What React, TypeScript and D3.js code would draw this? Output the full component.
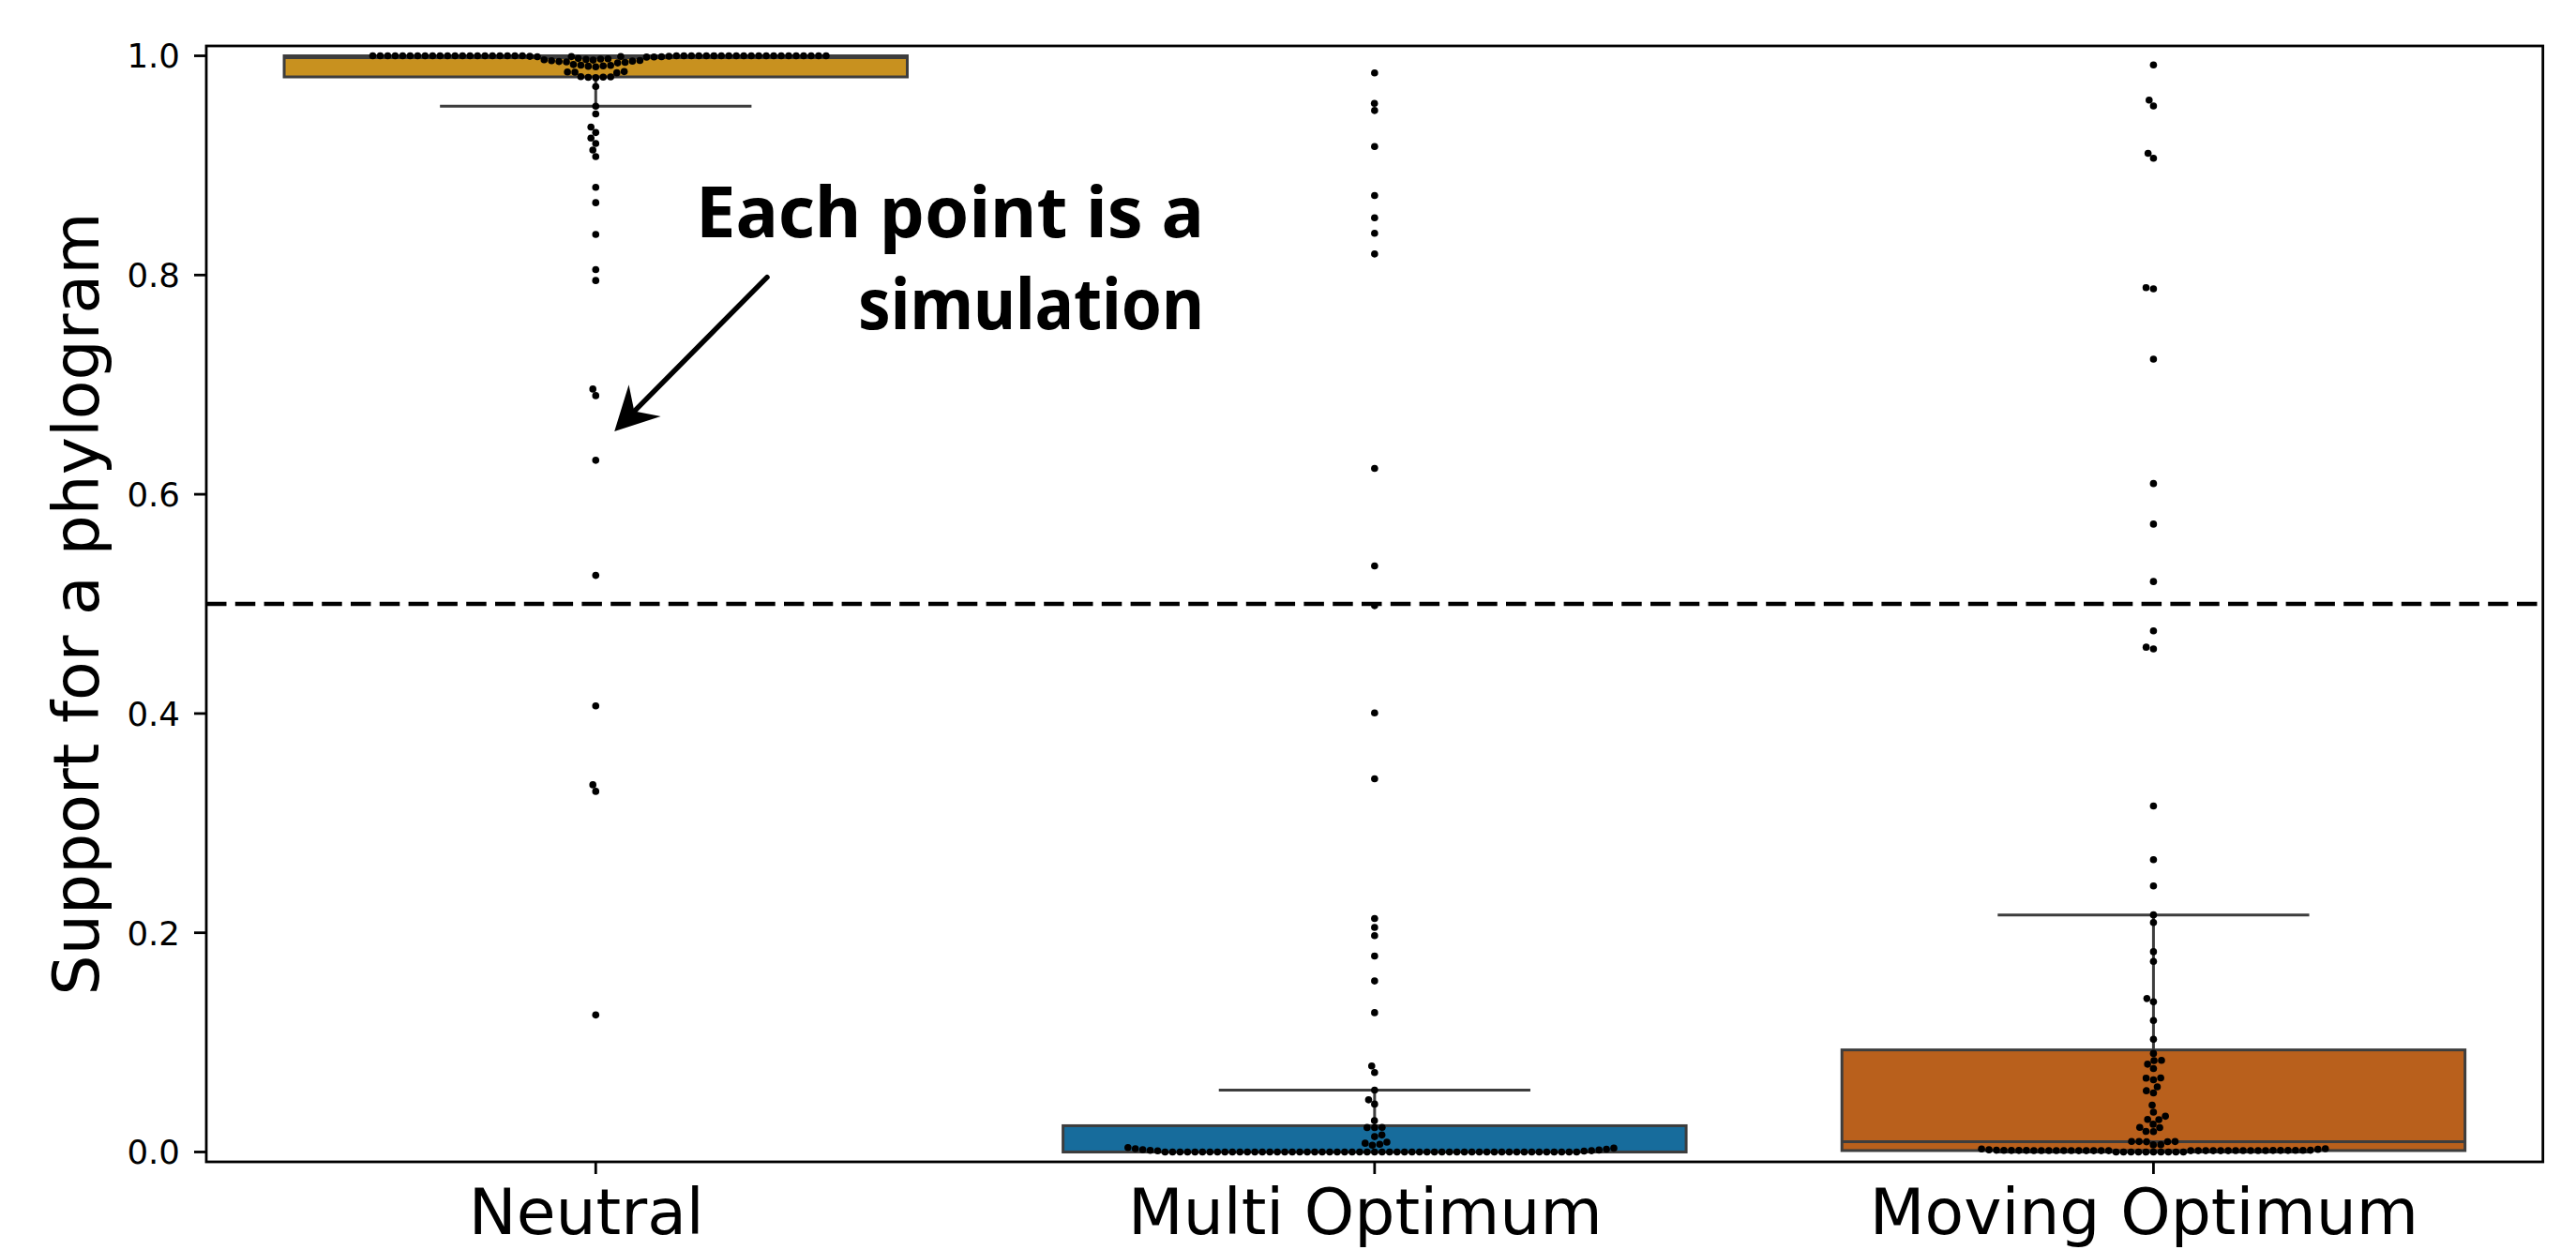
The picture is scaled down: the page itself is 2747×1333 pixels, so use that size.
import React from 'react';
import * as d3 from 'd3';

const categories = ['Neutral', 'Multi Optimum', 'Moving Optimum'];
const boxColors = ['#c8911f', '#176c9c', '#b9601c'];
const yTicks = [0, 0.2, 0.4, 0.6, 0.8, 1.0];
const yLabel = 'Support for a phylogram';
const thresholdValue = 0.5;
const annotationLines = ['Each point is a', 'simulation'];
// annotation anchors: [category offset, value]
const annotationTextAnchor = [0.781, 0.8346, 0.7507];
const arrowTail = [0.22, 0.798];
const arrowTip = [0.024, 0.6575];

const neutralValues = [
  0.125, 0.329, 0.335, 0.407, 0.526, 0.631, 0.690, 0.696, 0.795, 0.805, 0.837,
  0.866, 0.880, 0.908, 0.914, 0.920, 0.925, 0.930, 0.935, 0.947, 0.954, 0.972,
  0.9800, 0.9803, 0.9806, 0.9808, 0.9810,
  0.9845, 0.9850, 0.9852, 0.9856,
  0.9900, 0.9905, 0.9908, 0.9912, 0.9915, 0.9920,
  0.9935, 0.9940, 0.9944, 0.9948, 0.9952, 0.9955, 0.9958, 0.9961, 0.9964, 0.9967,
  0.9970, 0.9973, 0.9976,
  0.9988, 0.9990, 0.9991, 0.9992, 0.9993, 0.9994, 0.9995, 0.9996,
  1, 1, 1, 1, 1, 1, 1, 1, 1, 1, 1, 1, 1, 1, 1, 1, 1, 1, 1, 1, 1,
  1, 1, 1, 1, 1, 1, 1, 1, 1, 1, 1, 1, 1, 1, 1, 1, 1, 1, 1, 1, 1,
];

const multiValues = [
  0.9844, 0.9566, 0.9501, 0.9173, 0.8725, 0.8523, 0.8381, 0.8192, 0.6236, 0.5346,
  0.4984, 0.4005, 0.3405, 0.2130, 0.2049, 0.1974, 0.1788, 0.1560, 0.1271, 0.0785,
  0.0725,
  0.0565, 0.0476, 0.0437, 0.0287, 0.0223, 0.0222, 0.0224, 0.0155, 0.0140, 0.0090,
  0.0080, 0.0070, 0.0062,
  0, 0, 0, 0, 0, 0, 0, 0, 0, 0, 0, 0, 0, 0, 0, 0, 0, 0, 0, 0,
  0, 0, 0, 0, 0, 0, 0, 0, 0, 0, 0, 0, 0, 0, 0, 0, 0, 0, 0, 0,
  0, 0, 0, 0, 0, 0, 0, 0, 0, 0, 0, 0, 0, 0, 0, 0,
  0.0008, 0.0010, 0.0012, 0.0015, 0.0018, 0.0021, 0.0025, 0.0030, 0.0035, 0.0040,
];

const movingValues = [
  0.9917, 0.9596, 0.9543, 0.9111, 0.9066, 0.7885, 0.7874, 0.7233, 0.6098, 0.5728,
  0.5204, 0.4754, 0.4605, 0.4590, 0.3157, 0.2667, 0.2427,
  0.2163, 0.2093, 0.1827, 0.1739, 0.1400, 0.1370, 0.1199, 0.1028,
  0.0899, 0.0836, 0.0834, 0.0801, 0.0761, 0.0675, 0.0673, 0.0659, 0.0595, 0.0559,
  0.0539, 0.0428, 0.0364, 0.0326, 0.0297, 0.0295, 0.0253, 0.0224, 0.0222, 0.0188,
  0.0186, 0.0096, 0.0095, 0.0095, 0.0094, 0.0093, 0.0067, 0.0065,
  0, 0, 0, 0, 0, 0, 0, 0, 0, 0,
  0.0012, 0.0012, 0.0012, 0.0012, 0.0012, 0.0012, 0.0012, 0.0012, 0.0012, 0.0012, 0.0012,
  0.0013, 0.0013, 0.0013, 0.0013, 0.0013, 0.0013, 0.0013, 0.0013, 0.0013, 0.0013, 0.0013,
  0.0014, 0.0014, 0.0014, 0.0014, 0.0014, 0.0014,
  0.0015, 0.0015, 0.0015, 0.0016, 0.0016,
  0.0020, 0.0024, 0.0028, 0.0030,
];

const seriesValues = [neutralValues, multiValues, movingValues];

type P = { v: number; x: number; y: number; r: number };

function beeswarm(values: number[], cx: number, r: number, yScale: (v: number) => number): P[] {
  const pts: P[] = values.map((v) => ({ v, x: cx, y: -yScale(v), r }));
  pts.sort((a, b) => a.y - b.y);
  const swarm: P[] = [];
  for (let i = 0; i < pts.length; i++) {
    const p = pts[i];
    if (i === 0) {
      swarm.push(p);
      continue;
    }
    const neighbors: P[] = [];
    for (let j = swarm.length - 1; j >= 0; j--) {
      const q = swarm[j];
      if (p.y - q.y < p.r + q.r) neighbors.push(q);
      else break;
    }
    neighbors.reverse();
    const cands: number[] = [cx];
    let leftFirst = true;
    for (const q of neighbors) {
      const dy = p.y - q.y;
      const dx = Math.sqrt(Math.max((p.r + q.r) ** 2 - dy * dy, 0)) * 1.05;
      const cl = q.x - dx;
      const cr = q.x + dx;
      if (leftFirst) cands.push(cl, cr);
      else cands.push(cr, cl);
      leftFirst = !leftFirst;
    }
    const sorted = cands
      .map((c, k) => ({ c, k, o: Math.abs(c - cx) }))
      .sort((a, b) => a.o - b.o || a.k - b.k);
    let chosen = cx;
    for (const s of sorted) {
      const ok = neighbors.every(
        (q) => (q.x - s.c) ** 2 + (q.y - p.y) ** 2 >= (q.r + p.r) ** 2 - 1e-9
      );
      if (ok) {
        chosen = s.c;
        break;
      }
    }
    p.x = chosen;
    swarm.push(p);
  }
  return swarm;
}

function boxStats(values: number[]) {
  const s = [...values].sort((a, b) => a - b);
  const q1 = d3.quantile(s, 0.25) as number;
  const med = d3.quantile(s, 0.5) as number;
  const q3 = d3.quantile(s, 0.75) as number;
  const iqr = q3 - q1;
  const lo = d3.min(s.filter((v) => v >= q1 - 1.5 * iqr)) as number;
  const hi = d3.max(s.filter((v) => v <= q3 + 1.5 * iqr)) as number;
  return { q1, med, q3, lo, hi };
}

export default function App() {
  const W = 2747;
  const H = 1333;
  const left = 220;
  const right = 2711.7;
  const top = 49;
  const bottom = 1239;

  const x = d3.scaleBand<string>().domain(categories).range([left, right]).padding(0);
  const bw = x.bandwidth();
  const cx = (i: number) => (x(categories[i]) as number) + bw / 2;
  const y = d3.scaleLinear().domain([-0.009, 1.009]).range([bottom, top]);

  const edge = '#3d3d3d';
  const lw = 3;
  const dotR = 3.8;

  const boxes = seriesValues.map((vals, i) => ({ i, ...boxStats(vals) }));
  const swarms = seriesValues.map((vals, i) => beeswarm(vals, cx(i), dotR, y));

  // arrow geometry
  const tx = cx(0) + arrowTail[0] * bw;
  const ty = y(arrowTail[1]);
  const hx = cx(0) + arrowTip[0] * bw;
  const hy = y(arrowTip[1]);
  const len = Math.hypot(tx - hx, ty - hy);
  const ux = (tx - hx) / len;
  const uy = (ty - hy) / len;
  const nx = -uy;
  const ny = ux;
  const headLen = 46;
  const headHalf = 24;
  const notch = 30;
  const b1 = [hx + ux * headLen + nx * headHalf, hy + uy * headLen + ny * headHalf];
  const b2 = [hx + ux * headLen - nx * headHalf, hy + uy * headLen - ny * headHalf];
  const nt = [hx + ux * notch, hy + uy * notch];

  const annX = cx(0) + annotationTextAnchor[0] * bw;

  return (
    <svg
      width={W}
      height={H}
      viewBox={`0 0 ${W} ${H}`}
      style={{ position: 'absolute', left: 0, top: 0, display: 'block', background: '#fff' }}
    >
      <rect x={0} y={0} width={W} height={H} fill="#fff" />
      {/* boxes */}
      {boxes.map((b) => {
        const c = cx(b.i);
        const hw = 0.4 * bw;
        const cw = 0.2 * bw;
        return (
          <g key={b.i}>
            <line x1={c} x2={c} y1={y(b.q1)} y2={y(b.lo)} stroke={edge} strokeWidth={lw} />
            <line x1={c} x2={c} y1={y(b.q3)} y2={y(b.hi)} stroke={edge} strokeWidth={lw} />
            <line x1={c - cw} x2={c + cw} y1={y(b.lo)} y2={y(b.lo)} stroke={edge} strokeWidth={lw} />
            <line x1={c - cw} x2={c + cw} y1={y(b.hi)} y2={y(b.hi)} stroke={edge} strokeWidth={lw} />
            <rect
              x={c - hw}
              y={y(b.q3)}
              width={2 * hw}
              height={Math.max(y(b.q1) - y(b.q3), 0.1)}
              fill={boxColors[b.i]}
              stroke={edge}
              strokeWidth={lw}
            />
            <line x1={c - hw} x2={c + hw} y1={y(b.med)} y2={y(b.med)} stroke={edge} strokeWidth={lw} />
          </g>
        );
      })}
      {/* threshold */}
      <line
        x1={left}
        x2={right}
        y1={y(thresholdValue)}
        y2={y(thresholdValue)}
        stroke="#000"
        strokeWidth={4.5}
        strokeDasharray="21.5 9.3"
      />
      {/* swarm points */}
      {swarms.map((sw, i) => (
        <g key={i}>
          {sw.map((p, k) => (
            <circle key={k} cx={p.x} cy={-p.y} r={dotR} fill="#000" />
          ))}
        </g>
      ))}
      {/* frame */}
      <rect x={left} y={top} width={right - left} height={bottom - top} fill="none" stroke="#000" strokeWidth={2.8} />
      {/* y ticks */}
      {yTicks.map((t) => (
        <g key={t}>
          <line x1={left - 13} x2={left} y1={y(t)} y2={y(t)} stroke="#000" strokeWidth={2.8} />
          <text
            x={192}
            y={y(t)}
            dy="0.36em"
            textAnchor="end"
            fontFamily="DejaVu Sans"
            fontSize={35.6}
            fill="#000"
          >
            {t.toFixed(1)}
          </text>
        </g>
      ))}
      {/* x ticks */}
      {categories.map((c, i) => (
        <g key={c}>
          <line x1={cx(i)} x2={cx(i)} y1={bottom} y2={bottom + 13} stroke="#000" strokeWidth={2.8} />
          <text x={cx(i) - 10} y={1316} textAnchor="middle" fontFamily="DejaVu Sans" fontSize={68} fill="#000">
            {c}
          </text>
        </g>
      ))}
      {/* y label */}
      <text
        transform={`translate(105, ${(top + bottom) / 2}) rotate(-90)`}
        textAnchor="middle"
        fontFamily="DejaVu Sans"
        fontSize={68}
        fill="#000"
      >
        {yLabel}
      </text>
      {/* annotation */}
      <text
        x={annX}
        y={y(annotationTextAnchor[1])}
        textAnchor="end"
        fontFamily="Noto Sans"
        fontWeight="bold"
        fontSize={76}
        fill="#000"
        textLength={542}
        lengthAdjust="spacingAndGlyphs"
      >
        {annotationLines[0]}
      </text>
      <text
        x={annX}
        y={y(annotationTextAnchor[2])}
        textAnchor="end"
        fontFamily="Noto Sans"
        fontWeight="bold"
        fontSize={76}
        fill="#000"
        textLength={369}
        lengthAdjust="spacingAndGlyphs"
      >
        {annotationLines[1]}
      </text>
      <line x1={tx} y1={ty} x2={nt[0]} y2={nt[1]} stroke="#000" strokeWidth={5.5} strokeLinecap="round" />
      <polygon
        points={`${hx},${hy} ${b1[0]},${b1[1]} ${nt[0]},${nt[1]} ${b2[0]},${b2[1]}`}
        fill="#000"
      />
    </svg>
  );
}
